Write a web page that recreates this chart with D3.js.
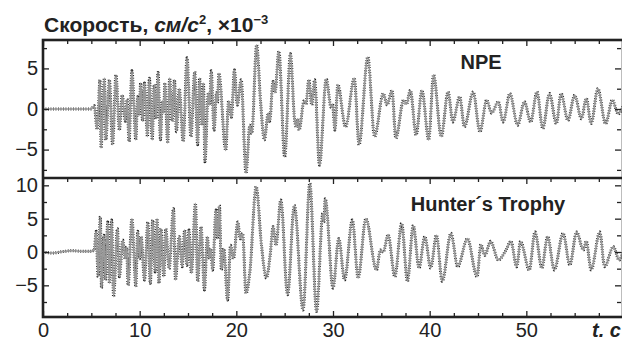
<!DOCTYPE html>
<html><head><meta charset="utf-8">
<script src="https://cdn.jsdelivr.net/npm/d3@7"></script>
<style>
html,body{margin:0;padding:0;background:#fff;}
svg text{font-family:"Liberation Sans",Arial,Helvetica,sans-serif;fill:#222;}
</style></head>
<body><svg id="c" width="622" height="341"></svg>
<script>
// ---- data ----
const xTickLabels = [0, 10, 20, 30, 40, 50];
const npeYTicks = [-5, 0, 5];
const hunterYTicks = [-5, 0, 5, 10];
const panelNames = ["NPE", "Hunter´s Trophy"];
// [time s, velocity ×10^-3]
const npe = [[0,0],[5.0,0],[5.3,0.4],[5.6,-2.5],[5.9,3.6],[6.0,-4.8],[6.35,3.8],[6.5,-3.8],[6.87,3.6],[7.2,-4.4],[7.55,4.2],[7.9,-2.6],[8.2,1.7],[8.5,-1.5],[8.7,1.2],[8.9,-4.0],[9.2,4.7],[9.6,-3.8],[9.8,1.5],[9.95,-0.8],[10.1,3.2],[10.3,-1.5],[10.5,3.2],[10.8,-3.4],[11.0,3.8],[11.3,-3.8],[11.5,3.0],[11.7,-1.2],[11.9,4.5],[12.15,-3.8],[12.35,1.0],[12.5,-0.5],[12.6,3.2],[12.9,-4.2],[13.1,3.8],[13.35,-1.5],[13.6,3.6],[13.8,-2.8],[14.1,2.5],[14.5,-4.0],[14.9,6.3],[15.3,-3.4],[15.7,4.6],[16.0,-4.4],[16.2,3.8],[16.45,-2.0],[16.6,3.2],[16.75,-6.5],[17.1,2.0],[17.25,0.5],[17.4,4.7],[17.7,-2.6],[17.95,2.0],[18.05,0.8],[18.2,4.4],[18.9,-5.1],[19.2,1.0],[19.5,-1.0],[19.8,4.8],[20.1,0.5],[20.5,3.6],[21.0,-7.9],[21.4,-2.0],[21.6,-3.0],[22.1,7.9],[22.5,1.0],[22.9,-3.8],[23.3,-0.5],[23.45,-1.5],[23.8,3.4],[24.0,2.0],[24.4,7.1],[25.0,-5.9],[25.6,6.8],[26.0,-1.0],[26.2,-2.2],[26.35,-1.2],[26.5,-2.6],[27.0,1.0],[27.2,0.6],[27.5,3.6],[27.8,0.5],[28.1,3.6],[28.6,-6.9],[29.3,3.7],[29.8,0.2],[29.95,0.6],[30.2,-2.6],[30.5,3.0],[31.3,-2.2],[32.2,3.8],[32.7,-4.4],[33.6,6.4],[34.3,-3.4],[35.2,1.9],[35.6,0.5],[36.1,2.3],[36.5,-3.6],[37.3,1.1],[37.6,0.6],[38.0,2.3],[38.6,-3.2],[39.2,2.3],[39.9,-3.8],[40.4,4.2],[41.2,-3.4],[41.9,2.1],[42.4,-1.6],[43.1,1.5],[43.6,-2.2],[44.5,2.1],[45.2,-2.8],[45.9,1.1],[46.4,-0.5],[47.1,0.9],[47.6,-1.6],[48.3,1.9],[49.1,-2.0],[49.8,0.9],[50.45,-1.6],[51.1,2.1],[51.7,-2.4],[52.4,1.9],[53.1,-1.8],[53.6,1.9],[54.3,-1.4],[55.0,1.7],[55.7,-1.2],[56.2,1.3],[56.7,-1.8],[57.4,2.5],[58.2,-1.8],[58.9,1.1],[59.5,-0.6],[60,0.3]];
const hunter = [[0,0],[1.0,-0.15],[2.0,0.05],[3.0,0.2],[4.0,0.1],[5.0,0.1],[5.3,0.3],[5.5,3.1],[5.7,-3.7],[5.93,5.3],[6.05,-5.4],[6.3,2.5],[6.45,-4.2],[6.7,4.5],[6.87,-4.7],[7.1,4.8],[7.3,-6.7],[7.7,3.5],[7.9,-3.7],[8.25,1.8],[8.5,-1.0],[8.65,0.8],[8.8,-5.0],[9.2,5.0],[9.6,-5.2],[9.8,3.1],[10.0,-1.0],[10.15,2.3],[10.5,-4.2],[10.85,4.5],[11.1,-4.7],[11.35,4.8],[11.6,-3.0],[11.8,5.0],[12.0,-4.7],[12.2,3.5],[12.5,-3.7],[12.7,3.5],[13.05,-2.5],[13.5,6.5],[13.7,-4.2],[14.1,2.3],[14.4,-2.2],[14.65,3.3],[14.9,-2.0],[15.1,3.3],[15.35,-3.2],[15.77,7.3],[16.0,-4.4],[16.35,3.8],[16.7,-5.7],[17.0,2.3],[17.2,-1.0],[17.35,0.5],[17.55,-2.7],[17.9,6.3],[18.05,2.0],[18.25,7.0],[18.45,-2.7],[18.7,0.5],[19.1,-7.2],[19.4,1.0],[19.7,-1.0],[20.15,4.5],[20.4,2.0],[20.65,2.8],[21.0,-6.2],[21.4,-3.0],[22.05,9.8],[22.6,1.0],[23.1,-3.9],[23.5,-0.5],[23.8,3.8],[24.1,1.0],[24.6,7.8],[25.3,-6.4],[26.0,7.0],[26.9,-8.7],[27.6,10.3],[28.3,-8.9],[28.95,5.8],[29.05,4.5],[29.2,8.0],[30.0,-5.4],[30.6,2.0],[31.2,-4.2],[32.0,4.8],[32.6,-3.9],[33.4,5.0],[34.5,-2.7],[34.9,0.3],[35.2,0.0],[35.7,2.6],[36.4,-3.7],[37.1,4.3],[37.7,-4.4],[38.3,4.0],[38.9,-2.4],[39.5,2.3],[40.1,-2.4],[40.7,2.5],[41.3,-4.4],[42.2,2.8],[42.9,-2.2],[43.9,2.0],[44.9,-3.7],[45.3,1.1],[45.7,-0.5],[46.3,1.6],[47.1,-1.2],[47.9,0.3],[48.4,1.6],[49.0,-2.2],[49.4,1.6],[50.3,-2.7],[50.9,3.0],[51.6,-2.4],[52.2,2.3],[52.9,-2.7],[53.8,2.8],[54.5,-1.95],[55.2,3.0],[55.9,0.3],[56.2,1.6],[56.7,-2.7],[57.6,3.0],[58.1,-2.2],[59.0,0.8],[59.6,-1.2],[60,0]];

// ---- layout ----
const svg = d3.select("#c");
const L = 43, R = 623;
const x = d3.scaleLinear().domain([0, 60]).range([L, R]);
const panels = [
  {data: npe, y: d3.scaleLinear().domain([-8.5, 8.5]).range([178, 40]), ticks: npeYTicks, name: panelNames[0], lx: 481, ly: 69},
  {data: hunter, y: d3.scaleLinear().domain([-9.75, 11.1]).range([317, 178]), ticks: hunterYTicks, name: panelNames[1], lx: 488, ly: 211}
];
const xMinor = d3.range(0, 60.01, 2.5).filter(v => v % 10 !== 0);
const xMajor = d3.range(0, 60.01, 10);

panels.forEach((p, i) => {
  const [y0, y1] = p.y.range();
  const id = "clip" + i;
  svg.append("clipPath").attr("id", id).append("rect")
    .attr("x", L).attr("y", y1).attr("width", R - L).attr("height", y0 - y1);
  const line = d3.line().x(d => x(d[0])).y(d => p.y(d[1])).curve(d3.curveMonotoneX);
  const g = svg.append("g").attr("clip-path", `url(#${id})`);
  g.append("path").attr("d", line(p.data)).attr("fill", "none")
    .attr("stroke", "#1a1a1a").attr("stroke-width", 3.0).attr("stroke-dasharray", "0.9,1.6");
  g.append("path").attr("d", line(p.data)).attr("fill", "none")
    .attr("stroke", "#999").attr("stroke-width", 1.7);

  const yd = p.y.domain();
  const minor = d3.range(-7.5, yd[1], 2.5).filter(v => v >= yd[0] && v % 5 !== 0);
  // left axis
  svg.append("g").attr("transform", `translate(${L},0)`)
    .call(d3.axisLeft(p.y).tickValues(p.ticks).tickSizeInner(-6).tickSizeOuter(0).tickPadding(5))
    .call(s => s.select(".domain").remove())
    .call(s => s.selectAll("text").style("font-size", "20px"))
    .call(s => s.selectAll("line").attr("stroke", "#222").attr("stroke-width", 1.3));
  svg.append("g").attr("transform", `translate(${L},0)`)
    .call(d3.axisLeft(p.y).tickValues(minor).tickSizeInner(-4).tickSizeOuter(0).tickFormat(""))
    .call(s => s.select(".domain").remove())
    .call(s => s.selectAll("line").attr("stroke", "#222").attr("stroke-width", 1.3));
  // right axis
  [[p.ticks, 6], [minor, 4]].forEach(([tv, sz]) => {
    svg.append("g").attr("transform", `translate(${R - 2},0)`)
      .call(d3.axisRight(p.y).tickValues(tv).tickSizeInner(-sz).tickSizeOuter(0).tickFormat(""))
      .call(s => s.select(".domain").remove())
      .call(s => s.selectAll("line").attr("stroke", "#222").attr("stroke-width", 1.3));
  });
  // top ticks (pointing down)
  [[xMajor, 6], [xMinor, 4]].forEach(([tv, sz]) => {
    svg.append("g").attr("transform", `translate(0,${y1})`)
      .call(d3.axisTop(x).tickValues(tv).tickSizeInner(-sz).tickSizeOuter(0).tickFormat(""))
      .call(s => s.select(".domain").remove())
      .call(s => s.selectAll("line").attr("stroke", "#222").attr("stroke-width", 1.3));
  });
  // label
  svg.append("text").attr("x", p.lx).attr("y", p.ly).attr("text-anchor", "middle")
    .style("font-size", "20px").style("font-weight", "bold").text(p.name);
});

// bottom x axis
svg.append("g").attr("transform", "translate(0,317)")
  .call(d3.axisBottom(x).tickValues(xTickLabels).tickSizeInner(-6).tickSizeOuter(0).tickPadding(6))
  .call(s => s.select(".domain").remove())
  .call(s => s.selectAll("text").style("font-size", "20px"))
  .call(s => s.selectAll("line").attr("stroke", "#222").attr("stroke-width", 1.3));
svg.append("g").attr("transform", "translate(0,317)")
  .call(d3.axisBottom(x).tickValues(xMinor).tickSizeInner(-4).tickSizeOuter(0).tickFormat(""))
  .call(s => s.select(".domain").remove())
  .call(s => s.selectAll("line").attr("stroke", "#222").attr("stroke-width", 1.3));

// frame
const frame = svg.append("g").attr("fill", "none").attr("stroke", "#222").attr("stroke-width", 2.6);
frame.append("rect").attr("x", L).attr("y", 40).attr("width", R - L).attr("height", 317 - 40);
frame.append("line").attr("x1", L).attr("x2", R).attr("y1", 178).attr("y2", 178);

// axis unit and title
svg.append("text").attr("x", 621).attr("y", 337).attr("text-anchor", "end")
  .style("font-size", "20px").style("font-weight", "bold").style("font-style", "italic").text("t. c");
const title = svg.append("text").attr("x", 44).attr("y", 32)
  .style("font-size", "21px").style("font-weight", "bold");
title.append("tspan").text("Скорость, ");
title.append("tspan").style("font-style", "italic").text("см/с");
title.append("tspan").attr("dy", -8).style("font-size", "13px").text("2");
title.append("tspan").attr("dy", 8).text(", ×10");
title.append("tspan").attr("dy", -8).style("font-size", "13px").text("−3");
</script>
</body></html>
